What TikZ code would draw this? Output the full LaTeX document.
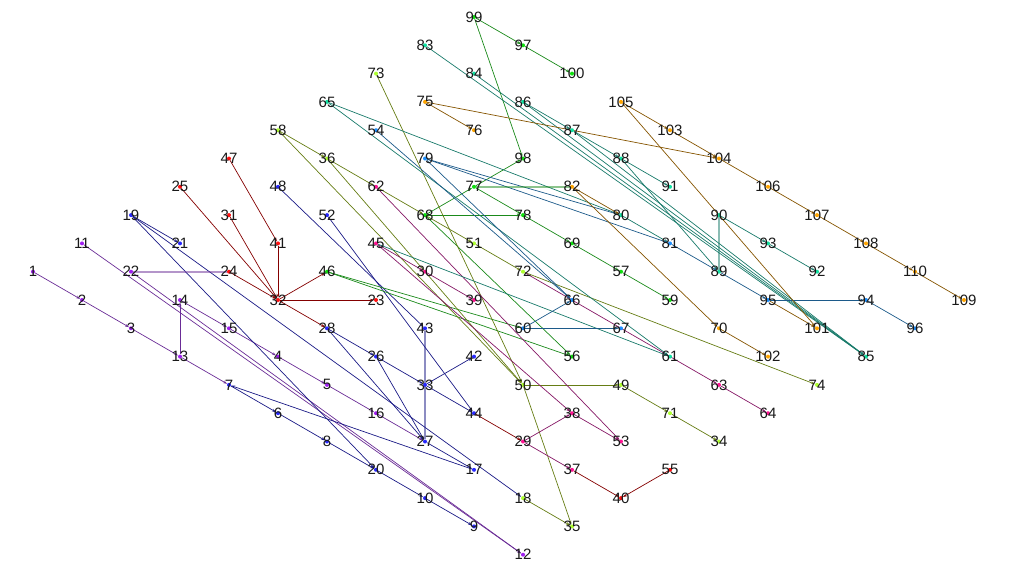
\documentclass[tikz,border=0pt]{standalone}
\usepackage{fontspec}
\setmainfont{Liberation Sans}
\usepackage{xcolor}
\usetikzlibrary{arrows.meta}
\pgfdeclarelayer{background}
\pgfsetlayers{background,main}

% vertex colours
\definecolor{vpurple}{HTML}{A020F0}
\definecolor{vblue}{HTML}{2828FF}
\definecolor{vred}{HTML}{FF1010}
\definecolor{vgreen}{HTML}{10E010}
\definecolor{vyellow}{HTML}{ADFF2F}
\definecolor{vmagenta}{HTML}{FF1493}
\definecolor{vteal}{HTML}{10E0A0}
\definecolor{vsky}{HTML}{1E90FF}
\definecolor{vorange}{HTML}{FFA500}
% edge colours
\definecolor{epurple}{HTML}{6A2C96}
\definecolor{eblue}{HTML}{1A1A86}
\definecolor{ered}{HTML}{840000}
\definecolor{egreen}{HTML}{1A8A1A}
\definecolor{eolive}{HTML}{667D14}
\definecolor{emagenta}{HTML}{861866}
\definecolor{eteal}{HTML}{187A6A}
\definecolor{esky}{HTML}{1C5A8A}
\definecolor{ebrown}{HTML}{855400}

\tikzset{
  vtx/.style={circle, fill=#1, inner sep=0pt, minimum size=4pt},
  link/.style={draw=#1, line width=0.7pt, -{Stealth[length=4pt,width=2.6pt]}},
  mutual/.style={draw=#1, line width=2.2pt, opacity=0.5}
}

\begin{document}
\begin{tikzpicture}[x=49pt, y=-28.3pt,
  every label/.style={font=\fontsize{15}{18}\selectfont, text=black!90, inner sep=0pt}]

\useasboundingbox (-33pt,17pt) rectangle (976pt,-554pt);

% Vertices: name/column/row
\foreach \n/\c/\r in {1/0/9, 2/1/10, 3/2/11, 13/3/12, 14/3/10, 15/4/11, 4/5/12,
    5/6/13, 16/7/14, 22/2/9, 11/1/8, 12/10/19}
  \node[vtx=vpurple, label={center:\n}] (v\n) at (\c,\r) {};
\foreach \n/\c/\r in {19/2/7, 21/3/8, 7/4/13, 6/5/14, 8/6/15, 20/7/16, 10/8/17,
    9/9/18, 17/9/16, 27/8/15, 33/8/13, 42/9/12, 44/9/14, 26/7/12, 28/6/11,
    43/8/11, 48/5/6, 52/6/7}
  \node[vtx=vblue, label={center:\n}] (v\n) at (\c,\r) {};
\foreach \n/\c/\r in {32/5/10, 24/4/9, 31/4/7, 25/3/6, 47/4/5, 41/5/8, 23/7/10,
    40/12/17, 55/13/16}
  \node[vtx=vred, label={center:\n}] (v\n) at (\c,\r) {};
\foreach \n/\c/\r in {46/6/9, 68/8/7, 77/9/6, 78/10/7, 69/11/8, 57/12/9, 59/13/10,
    98/10/5, 99/9/0, 97/10/1, 100/11/2, 56/11/12}
  \node[vtx=vgreen, label={center:\n}] (v\n) at (\c,\r) {};
\foreach \n/\c/\r in {36/6/5, 58/5/4, 73/7/2, 51/9/8, 72/10/9, 50/10/13, 49/12/13,
    71/13/14, 34/14/15, 35/11/18, 18/10/17, 74/16/13}
  \node[vtx=vyellow, label={center:\n}] (v\n) at (\c,\r) {};
\foreach \n/\c/\r in {62/7/6, 45/7/8, 30/8/9, 39/9/10, 38/11/14, 53/12/15,
    29/10/15, 37/11/16, 63/14/13, 64/15/14}
  \node[vtx=vmagenta, label={center:\n}] (v\n) at (\c,\r) {};
\foreach \n/\c/\r in {65/6/3, 83/8/1, 84/9/2, 86/10/3, 87/11/4, 88/12/5, 91/13/6,
    80/12/7, 90/14/7, 93/15/8, 92/16/9, 89/14/9, 85/17/12, 61/13/12}
  \node[vtx=vteal, label={center:\n}] (v\n) at (\c,\r) {};
\foreach \n/\c/\r in {54/7/4, 79/8/5, 81/13/8, 95/15/10, 94/17/10, 96/18/11,
    66/11/10, 67/12/11, 60/10/11}
  \node[vtx=vsky, label={center:\n}] (v\n) at (\c,\r) {};
\foreach \n/\c/\r in {75/8/3, 76/9/4, 105/12/3, 103/13/4, 104/14/5, 106/15/6,
    107/16/7, 108/17/8, 110/18/9, 109/19/10, 82/11/6, 70/14/11, 102/15/12,
    101/16/11}
  \node[vtx=vorange, label={center:\n}] (v\n) at (\c,\r) {};

% Edges, under the vertices
\begin{pgfonlayer}{background}
\foreach \a/\b in {1/2, 2/3, 3/13, 13/7, 14/15, 15/4, 4/5, 5/16, 16/27, 11/12,
    22/12, 13/14}
  \draw[link=epurple] (v\a) -- (v\b);
\foreach \a/\b in {19/21, 19/20, 19/18, 7/6, 6/8, 8/20, 20/10, 10/9, 17/7, 27/17,
    28/26, 26/33, 33/44, 28/27, 26/27, 33/42, 48/43, 52/44}
  \draw[link=eblue] (v\a) -- (v\b);
\foreach \a/\b in {25/32, 31/32, 47/41, 41/32, 24/32, 32/46, 32/23, 32/28,
    44/29, 37/40, 55/40}
  \draw[link=ered] (v\a) -- (v\b);
\foreach \a/\b in {46/56, 46/60, 68/78, 68/56, 77/78, 68/77, 77/98, 99/98, 99/97,
    97/100, 78/69, 69/57, 57/59}
  \draw[link=egreen] (v\a) -- (v\b);
\foreach \a/\b in {58/36, 36/62, 62/68, 68/51, 51/72, 58/50, 36/50, 73/50,
    50/49, 49/71, 71/34, 50/35, 18/35, 72/74}
  \draw[link=eolive] (v\a) -- (v\b);
\foreach \a/\b in {45/30, 30/39, 45/38, 62/53, 38/53, 29/38, 29/37, 72/63, 63/64}
  \draw[link=emagenta] (v\a) -- (v\b);
\foreach \a/\b in {65/80, 65/61, 45/61, 80/81, 83/85, 84/85, 86/85, 87/85,
    86/87, 87/88, 88/91, 88/89, 90/93, 93/92}
  \draw[link=eteal] (v\a) -- (v\b);
\foreach \a/\b in {54/66, 79/66, 79/80, 79/81, 81/89, 89/95, 95/94, 94/96,
    60/66, 60/67}
  \draw[link=esky] (v\a) -- (v\b);
\foreach \a/\b in {75/76, 75/104, 105/103, 103/104, 104/106, 106/107, 107/108,
    108/110, 110/109, 105/101, 82/80, 82/70, 70/102, 95/101}
  \draw[link=ebrown] (v\a) -- (v\b);

% Pairs linked both ways
\draw[mutual=epurple] (v22) -- (v24);
\draw[mutual=eblue] (v43) -- (v27);
\draw[mutual=egreen] (v77) -- (v82);
\draw[mutual=eteal] (v90) -- (v89);
\end{pgfonlayer}

\end{tikzpicture}
\end{document}
